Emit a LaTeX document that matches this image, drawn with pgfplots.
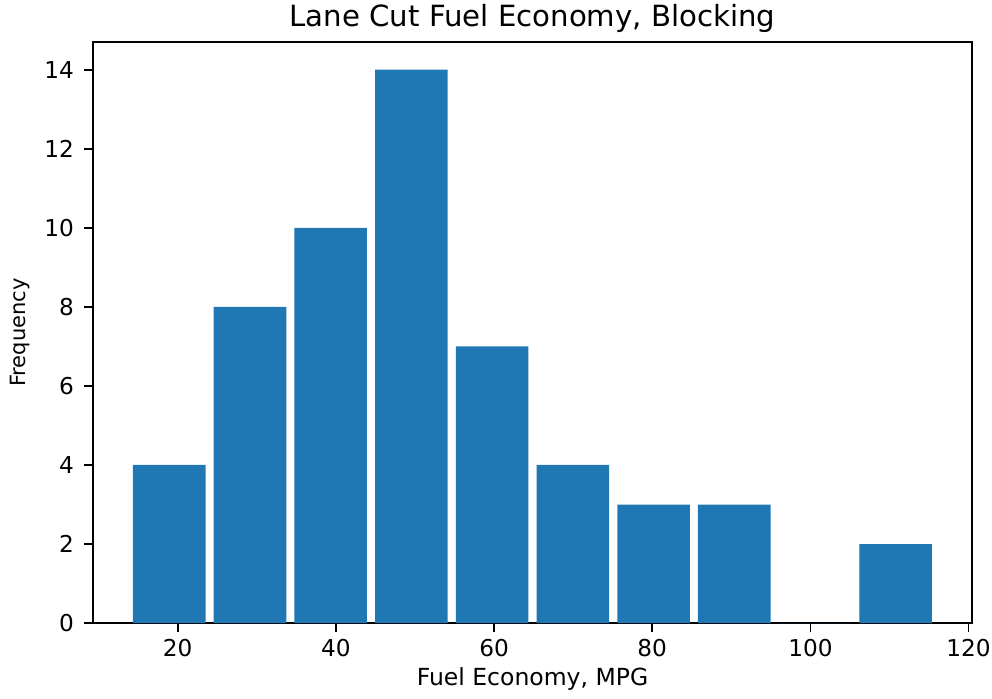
\documentclass[border=0pt]{standalone}
\usepackage{fontspec}
\setmainfont{DejaVu Sans}
\usepackage{pgfplots}
\pgfplotsset{compat=1.18}
\definecolor{mplblue}{HTML}{1F77B4}
\begin{document}
\begin{tikzpicture}
\begin{axis}[
  scale only axis,
  width=439.4pt, height=290.5pt,
  xmin=9.29, xmax=120.43,
  ymin=0, ymax=14.7,
  xtick={20,40,60,80,100,120},
  ytick={0,2,4,6,8,10,12,14},
  tick pos=left,
  tick align=outside,
  major tick length=4.5pt,
  every tick/.style={line width=0.9pt, black},
  axis line style={line width=0.9pt, black},
  /pgf/number format/assume math mode=true,
  ticklabel style={font=\fontsize{11.6}{14}\selectfont},
  yticklabel style={xshift=-1.5pt},
  xlabel={Fuel Economy, MPG},
  xlabel style={font=\fontsize{11.75}{14}\selectfont, at={(axis description cs:0.5,-0.1067)}, anchor=base, yshift=0pt},
  ylabel={Frequency},
  ylabel style={font=\fontsize{10.5}{12}\selectfont, at={(axis description cs:-0.0768,0.5)}, anchor=base, xshift=0pt},
  clip=false,
  ybar, bar shift=0pt, bar width=9.185,
]
\addplot[fill=mplblue, draw=none] table {
x y
18.93 4
29.14 8
39.34 10
49.55 14
59.75 7
69.96 4
80.17 3
90.37 3
100.58 0
110.78 2
};
\node[font=\fontsize{14.6}{17}\selectfont, anchor=base] at (axis description cs:0.5,1.0275) {Lane Cut Fuel Economy, Blocking};
\end{axis}
\pgfresetboundingbox
\path[use as bounding box] ([xshift=-46.5pt,yshift=-37.5pt]current axis.south west) rectangle ([xshift=10pt,yshift=21pt]current axis.north east);
\end{tikzpicture}
\end{document}
